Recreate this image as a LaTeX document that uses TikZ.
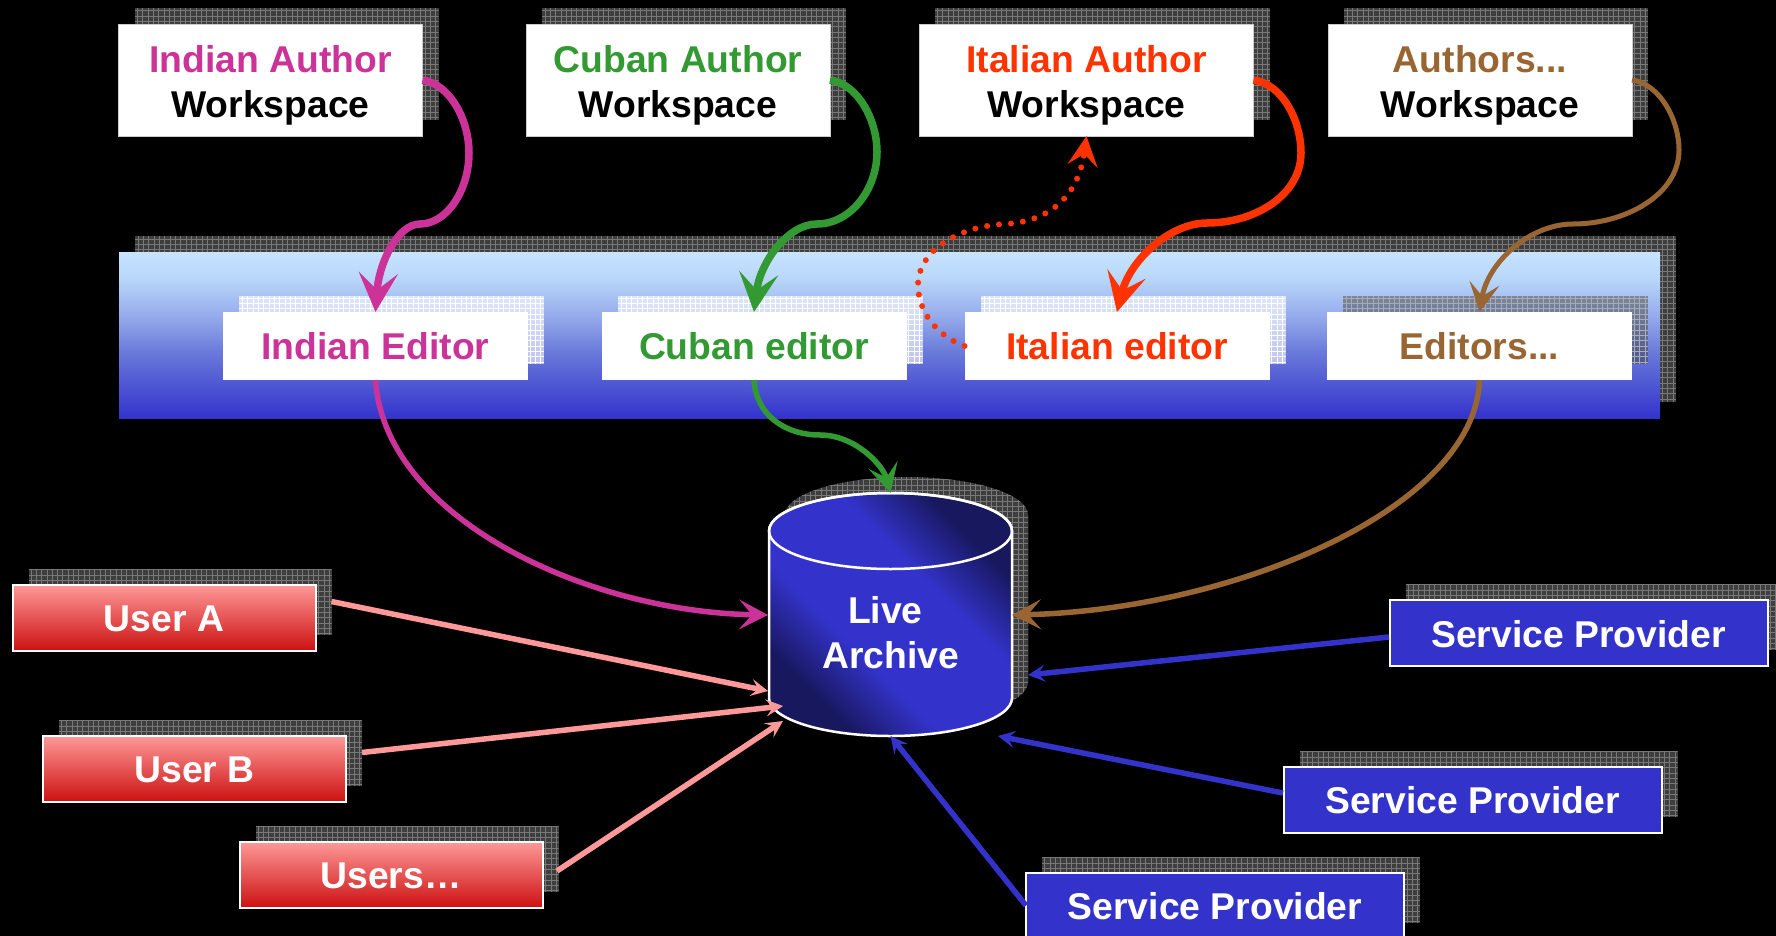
\documentclass[tikz,border=0pt]{standalone}
\usepackage{fontspec}
\setmainfont{Liberation Sans}
\usetikzlibrary{arrows.meta}
\definecolor{cmag}{HTML}{CC3399}
\definecolor{cgrn}{HTML}{339933}
\definecolor{cred}{HTML}{FF3300}
\definecolor{cbrn}{HTML}{996633}
\definecolor{cpnk}{HTML}{FF9999}
\definecolor{cblu}{HTML}{3333CC}
\definecolor{cdrk}{HTML}{18185F}
\definecolor{cshd}{HTML}{3E3E3E}
\definecolor{cgln}{HTML}{787878}
\definecolor{cusrbot}{HTML}{CC1111}
\definecolor{bandb}{HTML}{6A7ADA}
\definecolor{bandc}{HTML}{93A8EA}
\definecolor{bandd}{HTML}{BAD8FA}
\definecolor{bande}{HTML}{C6E3FF}
\pgfdeclareverticalshading{bandshade}{100bp}{
  color(0bp)=(cblu);
  color(25bp)=(cblu);
  color(45bp)=(bandb);
  color(55bp)=(bandc);
  color(67.5bp)=(bandd);
  color(75bp)=(bande);
  color(100bp)=(bande)}
\pgfdeclareverticalshading{cylshade}{100bp}{
  color(0bp)=(cdrk);
  color(27bp)=(cdrk);
  color(40bp)=(cblu);
  color(60bp)=(cblu);
  color(73bp)=(cdrk);
  color(100bp)=(cdrk)}
\tikzset{
  boxbase/.style={rectangle,inner sep=0pt,outer sep=0pt,align=center,font=\fontsize{37.3}{45}\selectfont\bfseries},
  gridfill/.style={path picture={\draw[#1,line width=.5pt,opacity=1,step=5.33pt] (path picture bounding box.south west) grid (path picture bounding box.north east);}},
  shadedark/.style={boxbase,fill=cshd,gridfill=cgln},
  shadelight/.style={boxbase,fill=white,fill opacity=.6,gridfill=white},
  shademid/.style={boxbase,fill=cshd,fill opacity=.45,gridfill={black!32}},
  authorsize/.style={minimum width=304pt,minimum height=112pt},
  authorbox/.style={boxbase,fill=white,draw=white!80!black,line width=.8pt,authorsize},
  editorsize/.style={minimum width=305pt,minimum height=68pt},
  editorbox/.style={boxbase,fill=white,editorsize,text height=29pt,text depth=3pt},
  usersize/.style={minimum width=303pt,minimum height=66pt},
  userbox/.style={boxbase,usersize,top color=cpnk,bottom color=cusrbot,draw=white,line width=2pt,text=white,text height=27pt,text depth=0pt},
  spsize/.style={minimum width=378pt,minimum height=66pt},
  spbox/.style={boxbase,spsize,fill=cblu,draw=white,line width=2pt,text=white,text height=27pt,text depth=0pt},
  bigtip/.style={-{Stealth[length=39pt,width=39pt,inset=17pt]}},
  midtip/.style={-{Stealth[length=29pt,width=30pt,inset=13pt]}},
  smalltip/.style={-{Stealth[length=17pt,width=17pt,inset=7pt]}},
  thickflow/.style={line width=7.5pt,bigtip},
  flow/.style={line width=5.5pt,midtip},
  straightflow/.style={line width=5.5pt,smalltip},
}
\newcommand{\wslabel}[2]{\rule{0pt}{38.4pt}\textcolor{#1}{#2}\\\textcolor{black}{Workspace}\rule[-8pt]{0pt}{8pt}}
\begin{document}
\begin{tikzpicture}[x=1pt,y=-1pt]
\clip (0,0) rectangle (1776,936);
\fill[black] (0,0) rectangle (1776,936);

% shadows
\node[shadedark,authorsize] (ias) at (286.5,64) {};
\node[shadedark,authorsize] (cas) at (694,64) {};
\node[shadedark,authorsize,minimum width=335pt] (itas) at (1102.5,64) {};
\node[shadedark,authorsize] (aas) at (1496,64) {};
\node[shadedark,minimum width=1541pt,minimum height=166pt] (bands) at (905.5,319) {};

% band
\node[boxbase,minimum width=1541pt,minimum height=166pt,shading=bandshade] (band) at (889.5,335) {};

\node[shadelight,editorsize] (ies) at (391.5,330) {};
\node[shadelight,editorsize] (ces) at (770,330) {};
\node[shadelight,editorsize] (ites) at (1133,330) {};
\node[shademid,editorsize] (ees) at (1495.5,330) {};

\node[shadedark,usersize] (uas) at (180,601.5) {};
\node[shadedark,usersize] (ubs) at (210.5,752.5) {};
\node[shadedark,usersize] (uss) at (407,858.5) {};
\node[shadedark,spsize] (sp1s) at (1594.5,616.5) {};
\node[shadedark,spsize] (sp2s) at (1488.5,783.5) {};
\node[shadedark,spsize] (sp3s) at (1231,889.5) {};

% author boxes
\node[authorbox] (ia) at (270.5,80) {\wslabel{cmag}{Indian Author}};
\node[authorbox] (ca) at (678,80) {\wslabel{cgrn}{Cuban Author}};
\node[authorbox,minimum width=334pt] (ita) at (1086.5,80) {\wslabel{cred}{Italian Author}};
\node[authorbox] (aa) at (1480,80) {\wslabel{cbrn}{Authors...}};

% editor boxes
\node[editorbox,text=cmag] (ie) at (375.5,346) {Indian Editor};
\node[editorbox,text=cgrn] (ce) at (754,346) {Cuban editor};
\node[editorbox,text=cred] (ite) at (1117,346) {Italian editor};
\node[editorbox,text=cbrn] (ee) at (1479.5,346) {Editors...};

% archive shadow
\begin{scope}
\clip (785,515) arc[start angle=180,end angle=360,x radius=121.5,y radius=38]
  -- (1028,682) arc[start angle=0,end angle=180,x radius=121.5,y radius=38] -- cycle;
\fill[cshd] (780,470) rectangle (1035,730);
\draw[cgln,line width=.5pt,step=5.33pt] (780,730) grid (1035,470);
\end{scope}

% archive
\path[shading=cylshade,shading angle=-45]
  (769,531) arc[start angle=180,end angle=360,x radius=121.5,y radius=38]
  -- (1012,698) arc[start angle=0,end angle=180,x radius=121.5,y radius=38] -- cycle;
\draw[white,line width=2.5pt,line join=round]
  (769,531) arc[start angle=180,end angle=360,x radius=121.5,y radius=38]
  -- (1012,698) arc[start angle=0,end angle=180,x radius=121.5,y radius=38] -- cycle;
\draw[white,line width=2.5pt] (890.5,531) ellipse[x radius=121.5,y radius=38];
\node[boxbase,text=white,minimum width=243pt] (arch) at (890.5,631) {\rule{0pt}{37pt}Live\rule{10.3pt}{0pt}\\Archive\rule[-8pt]{0pt}{8pt}};

\coordinate (cw) at (768,615);
\coordinate (ce2) at (1012,615);
\coordinate (ct) at (890.5,493);
\coordinate (cb) at (890.5,736);
\coordinate (uat) at (768,691);
\coordinate (ubt) at (783,706);
\coordinate (ust) at (783,721);
\coordinate (usf) at (557,871);
\coordinate (sp1f) at (1389,637);
\coordinate (sp1t) at (1028,675);
\coordinate (sp2f) at (1283,793);
\coordinate (sp2t) at (998,736);

% user boxes
\node[userbox] (ua) at (164,617.5) {User A};
\node[userbox] (ub) at (194.5,768.5) {User B};
\node[userbox] (us) at (391,874.5) {Users…};
\node[spbox,text depth=0pt,text height=29pt] (sp1) at (1578.5,632.5) {Service Provider};
\node[spbox] (sp2) at (1472.5,799.5) {Service Provider};
\node[spbox] (sp3) at (1215,905.5) {Service Provider};

% top connectors
\draw[thickflow,cmag] (ia.east) .. controls (450,84) and (469,120) .. (469,153)
  .. controls (469,190) and (447,224) .. (420,224)
  .. controls (398,224) and (379,262) .. (ie.north);
\draw[thickflow,cgrn] (ca.east) .. controls (858,84) and (877,120) .. (877,152)
  .. controls (877,190) and (850,224) .. (817,224)
  .. controls (788,224) and (760,262) .. (ce.north);
\draw[thickflow,cred] (ita.east) .. controls (1282,84) and (1301,120) .. (1301,153)
  .. controls (1301,195) and (1255,223) .. (1207,223)
  .. controls (1170,223) and (1130,260) .. (ite.north);
\draw[line width=5pt,midtip,cbrn] (aa.east) .. controls (1660,84) and (1679,120) .. (1679,150)
  .. controls (1679,195) and (1625,224) .. (1573,224)
  .. controls (1530,224) and (1488,262) .. (ee.north);

% dotted
\draw[cred,line width=6pt,line cap=round,dash pattern=on 0pt off 12pt,-{Stealth[length=30pt,width=30pt,inset=12pt]}]
  (ite.west) .. controls (935,335) and (918,310) .. (918,285)
  .. controls (918,250) and (960,226) .. (1005,224)
  .. controls (1045,222) and (1078,200) .. (ita.south);

% lower connectors
\draw[flow,cmag] (ie.south) .. controls (385,520) and (590,612) .. (cw);
\draw[flow,cgrn] (ce.south) .. controls (756,415) and (785,435) .. (820,435)
  .. controls (855,435) and (883,465) .. (ct);
\draw[flow,cbrn] (ee.south) .. controls (1475,510) and (1230,610) .. (ce2);

% straight connectors
\draw[straightflow,cpnk] (uas.east) -- (uat);
\draw[straightflow,cpnk] (ubs.east) -- (ubt);
\draw[straightflow,cpnk] (usf) -- (ust);
\draw[straightflow,cblu] (sp1f) -- (sp1t);
\draw[straightflow,cblu] (sp2f) -- (sp2t);
\draw[straightflow,cblu] (sp3.west) -- (cb);
\end{tikzpicture}
\end{document}
